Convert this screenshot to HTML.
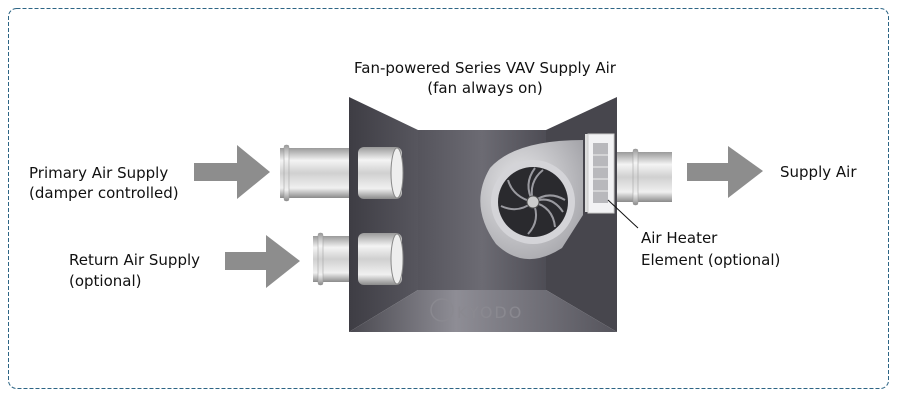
<!DOCTYPE html>
<html><head><meta charset="utf-8"><style>
html,body{margin:0;padding:0;background:#fff;width:900px;height:400px;overflow:hidden}
svg{display:block}
text{font-family:"DejaVu Sans","Liberation Sans",sans-serif;font-size:15px;fill:#111}
</style></head><body>
<svg width="900" height="400" viewBox="0 0 900 400">
<defs>
<linearGradient id="pipe" x1="0" y1="0" x2="0" y2="1">
<stop offset="0" stop-color="#9a9a9a"/><stop offset="0.25" stop-color="#f4f4f4"/><stop offset="0.5" stop-color="#d0d0d0"/><stop offset="0.8" stop-color="#f0f0f0"/><stop offset="1" stop-color="#8a8a8a"/></linearGradient>
<linearGradient id="lp" x1="0" y1="0" x2="1" y2="0"><stop offset="0" stop-color="#3e3d44"/><stop offset="1" stop-color="#57565e"/></linearGradient>
<linearGradient id="bk" x1="0" y1="0" x2="1" y2="0"><stop offset="0" stop-color="#55545c"/><stop offset="0.5" stop-color="#6c6b73"/><stop offset="1" stop-color="#4e4d55"/></linearGradient>
<linearGradient id="bt" x1="0" y1="0" x2="1" y2="0"><stop offset="0" stop-color="#4a4950"/><stop offset="0.4" stop-color="#8e8d95"/><stop offset="1" stop-color="#55545c"/></linearGradient>
<radialGradient id="vol" cx="0.4" cy="0.4" r="0.7"><stop offset="0" stop-color="#e8e8ea"/><stop offset="1" stop-color="#a5a5aa"/></radialGradient>
</defs>
<rect x="8.5" y="8.5" width="880" height="380" rx="8" fill="none" stroke="#2d6585" stroke-width="1" stroke-dasharray="4,2"/>
<text x="485" y="73" text-anchor="middle">Fan-powered Series VAV Supply Air</text>
<text x="485" y="93" text-anchor="middle">(fan always on)</text>
<text x="29" y="178">Primary Air Supply</text>
<text x="29" y="198">(damper controlled)</text>
<text x="69" y="265">Return Air Supply</text>
<text x="69" y="286">(optional)</text>
<text x="780" y="177">Supply Air</text>
<text x="641" y="243">Air Heater</text>
<text x="641" y="265">Element (optional)</text>
<polygon points="194,163 237,163 237,145 270,172 237,199 237,181 194,181" fill="#8d8d8d"/>
<polygon points="225,252 266,252 266,235 300,261 266,288 266,270 225,270" fill="#8d8d8d"/>
<polygon points="687,163 728,163 728,146 763,171 728,198 728,181 687,181" fill="#8d8d8d"/>
<rect x="280" y="148" width="70" height="50" fill="url(#pipe)"/>
<rect x="284" y="145" width="5" height="56" rx="2" fill="url(#pipe)" stroke="#999" stroke-width="0.5"/>
<rect x="313" y="236" width="37" height="46" fill="url(#pipe)"/>
<rect x="318" y="233" width="5" height="52" rx="2" fill="url(#pipe)" stroke="#999" stroke-width="0.5"/>
<rect x="615" y="152" width="57" height="50" fill="url(#pipe)"/>
<rect x="633" y="149" width="5" height="56" rx="2" fill="url(#pipe)" stroke="#999" stroke-width="0.5"/>
<polygon points="349,97 418,130 418,290 349,332" fill="url(#lp)"/>
<polygon points="617,97 546,130 546,290 617,332" fill="#47464d"/>
<rect x="418" y="130" width="128" height="160" fill="url(#bk)"/>
<polygon points="418,290 546,290 617,332 349,332" fill="url(#bt)"/>
<rect x="358" y="147" width="44" height="52" rx="6" fill="url(#pipe)"/>
<ellipse cx="397" cy="173" rx="6" ry="25" fill="#eee" stroke="#888"/>
<rect x="358" y="233" width="44" height="52" rx="6" fill="url(#pipe)"/>
<ellipse cx="397" cy="259" rx="6" ry="25" fill="#eee" stroke="#888"/>
<path d="M583,140 L583,215 L562,248 Q525,272 496,244 Q468,205 490,168 Q515,140 583,140 Z" fill="url(#vol)"/>
<circle cx="533" cy="202" r="42" fill="#d4d4d8"/>
<circle cx="533" cy="202" r="35" fill="#2a2a2e"/>
<g stroke="#9a9aa0" stroke-width="2" fill="none">
<path d="M533,202 q-5,-20 10,-32"/><path d="M533,202 q15,-12 32,-2"/><path d="M533,202 q20,5 22,25"/><path d="M533,202 q8,18 -5,32"/><path d="M533,202 q-15,12 -32,4"/><path d="M533,202 q-20,-5 -25,-22"/><path d="M533,202 q-10,-18 2,-34"/><path d="M533,202 q18,-8 30,10"/>
</g>
<circle cx="533" cy="202" r="6" fill="#ccc" stroke="#555"/>
<rect x="585" y="134" width="3" height="78" fill="#ddd"/>
<rect x="588" y="134" width="26" height="79" fill="#f2f2f4" stroke="#ccc"/>
<rect x="593" y="143" width="15" height="60" fill="#b8b8bc"/>
<g stroke="#f0f0f0" stroke-width="1"><line x1="593" y1="155" x2="608" y2="155"/><line x1="593" y1="167" x2="608" y2="167"/><line x1="593" y1="179" x2="608" y2="179"/><line x1="593" y1="191" x2="608" y2="191"/></g>
<line x1="608" y1="200" x2="638" y2="228" stroke="#111" stroke-width="1"/>
<circle cx="442" cy="310" r="11" fill="none" stroke="#8a8990" stroke-width="1.5"/>
<text x="457" y="318" style="font-size:16px;fill:#8a8990;letter-spacing:2px">KYODO</text>
</svg>
</body></html>
